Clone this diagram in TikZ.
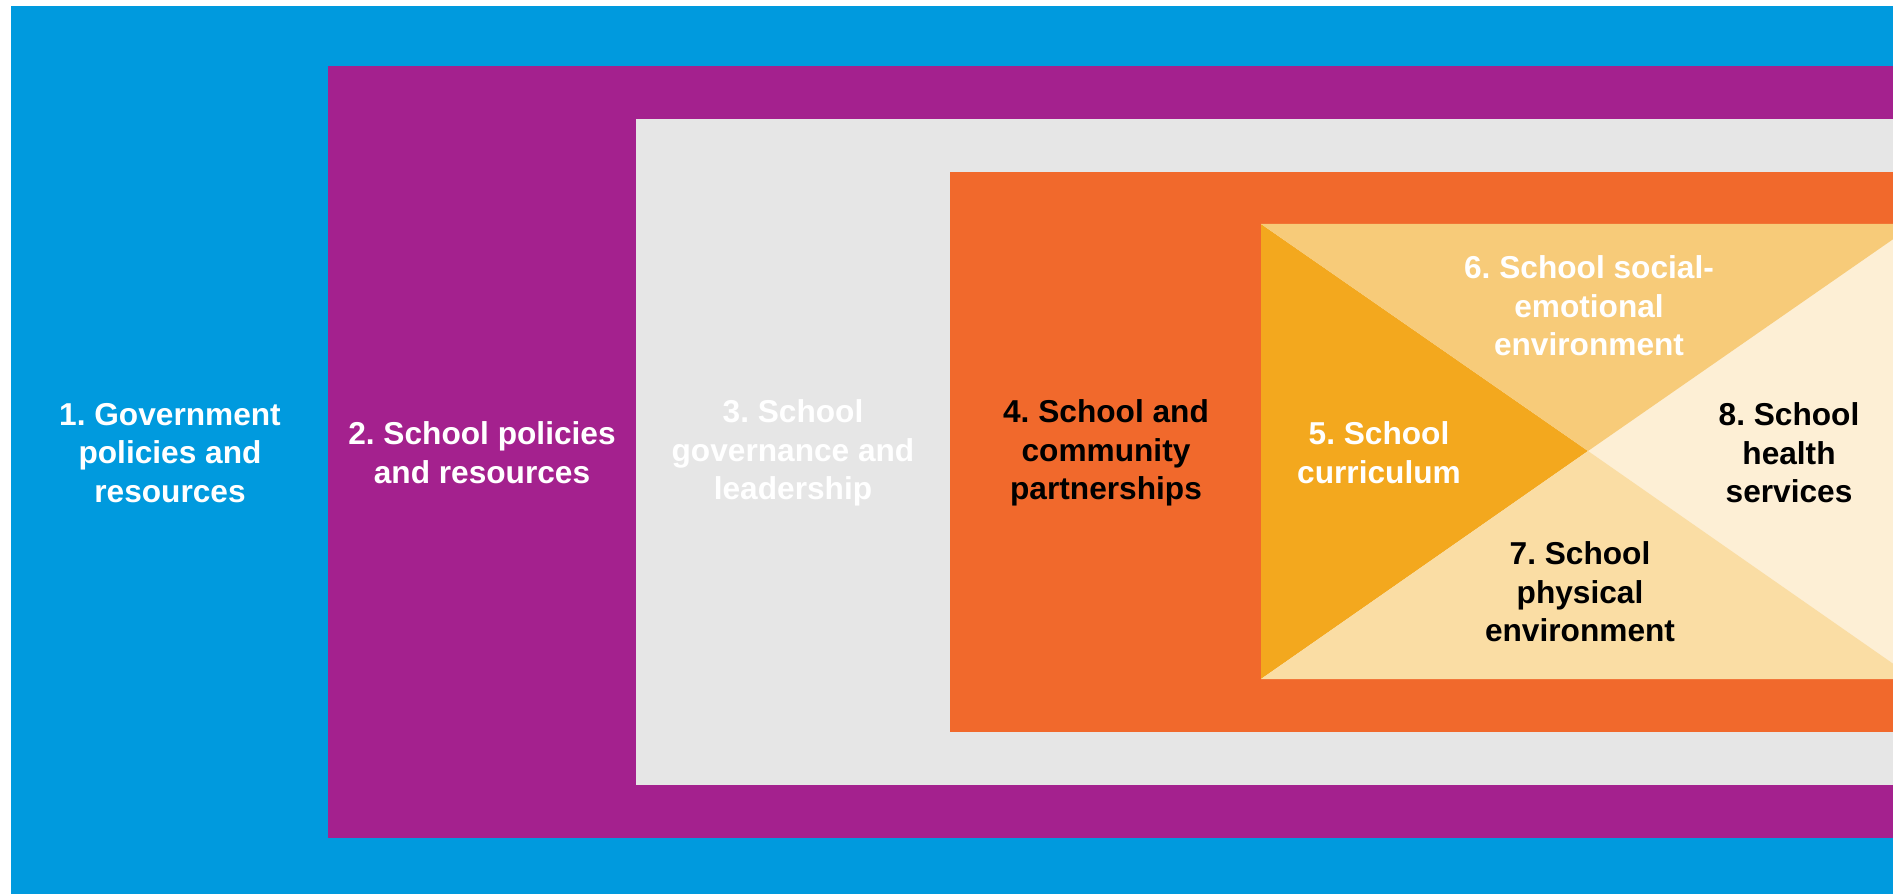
\documentclass[tikz,border=0pt]{standalone}
\usepackage{fontspec}
\setmainfont{Liberation Sans}
\frenchspacing
\definecolor{govblue}{HTML}{009ADE}
\definecolor{polpurple}{HTML}{A4218E}
\definecolor{leadgray}{HTML}{E6E6E6}
\definecolor{partorange}{HTML}{F1692C}
\definecolor{currgold}{HTML}{F3A81E}
\definecolor{socialtan}{HTML}{F7CB79}
\definecolor{physsand}{HTML}{FADDA4}
\definecolor{healthcream}{HTML}{FDEFD5}

\begin{document}
\begin{tikzpicture}[x=0.01cm, y=-0.01cm, font=\fontsize{9}{11}\selectfont\bfseries, lbl/.style={align=center, inner sep=0pt}, lblw/.style={lbl, text=white}, lblb/.style={lbl, text=black}]
  \useasboundingbox (0,0) rectangle (1893,894);
  % nested frames
  \fill[govblue] (11,6) rectangle (1893,894);
  \fill[polpurple] (328,66) rectangle (1893,838);
  \fill[leadgray] (636,119) rectangle (1893,785);
  \fill[partorange] (950,172) rectangle (1893,732);
  % inner square split by the X
  \coordinate (tl) at (1261,224);
  \coordinate (bl) at (1261,679);
  \coordinate (tr) at (1915,224);
  \coordinate (br) at (1915,679);
  \coordinate (mid) at (1588,451);
  \begin{scope}
    \clip (1261,224) rectangle (1893,679);
    \fill[healthcream] (tl) rectangle (br);
    \fill[currgold] (tl) -- (mid) -- (bl) -- cycle;
    \fill[socialtan] (tl) -- (tr) -- (mid) -- cycle;
    \fill[physsand] (bl) -- (mid) -- (br) -- cycle;
  \end{scope}
  % labels
  \node[lblw] (gov) at (170,453) {1. Government\\policies and\\resources};
  \node[lblw] (pol) at (482,453) {2. School policies\\and resources};
  \node[lblw] (lead) at (793,453) {3. School\\governance and\\leadership};
  \node[lblb] (part) at (1106,453) {4. School and\\community\\partnerships};
  \node[lblw] (curr) at (1379,453) {5. School\\curriculum};
  \node[lblw] (social) at (1589,306) {6. School social-\\emotional\\environment};
  \node[lblb] (phys) at (1580,592) {7. School\\physical\\environment};
  \node[lblb] (health) at (1789,453) {8. School\\health\\services};
\end{tikzpicture}
\end{document}
